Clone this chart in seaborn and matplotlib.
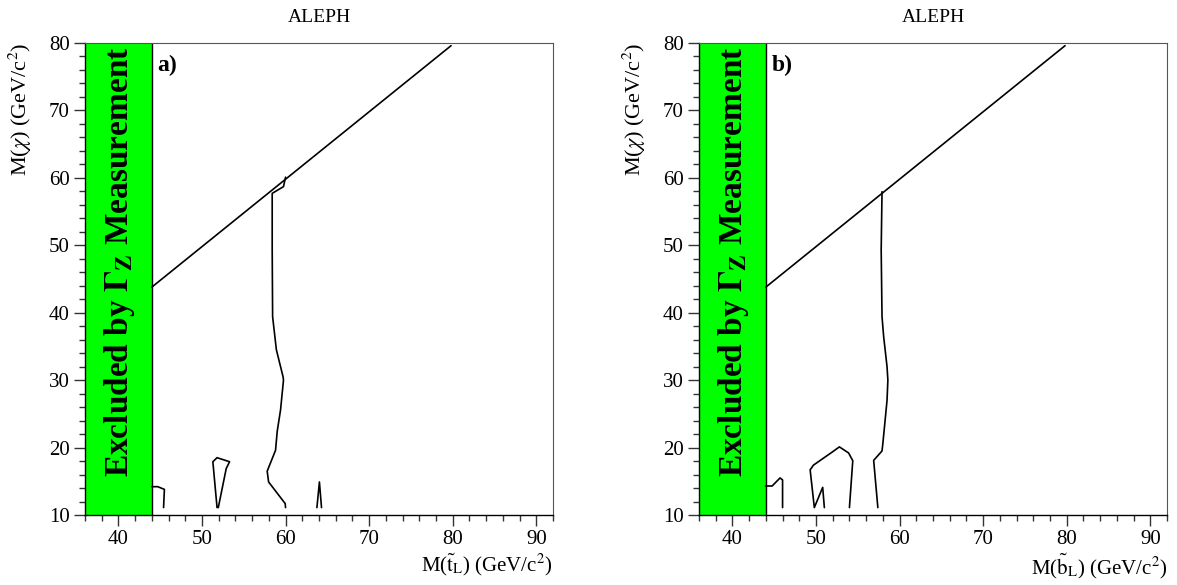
import matplotlib
matplotlib.use("Agg")
import matplotlib.pyplot as plt
import numpy as np
import pandas as pd
import seaborn as sns
from matplotlib.ticker import MultipleLocator

# excluded band (Gamma_Z) and kinematic limit, shared by both panels
BAND_X = [36, 44]
KIN_X = [44.0, 79.8]
KIN_Y = [43.8, 79.6]

# a) stop: contour pieces
A_MAIN_X = [60.0, 59.75, 58.4, 58.4, 58.45, 58.9, 59.7, 59.75, 59.4, 59.0, 58.8, 57.8, 57.97, 59.95, 60.0]
A_MAIN_Y = [60.1, 58.7, 57.7, 49.3, 39.4, 34.5, 30.5, 30.0, 25.6, 22.4, 19.6, 16.5, 14.9, 11.7, 11.1]
A_EDGE_X = [44.0, 44.7, 45.5, 45.4]
A_EDGE_Y = [14.2, 14.2, 13.8, 11.1]
A_LOOP_X = [51.8, 51.3, 51.8, 53.3, 52.9, 51.95]
A_LOOP_Y = [11.1, 17.9, 18.5, 17.9, 16.9, 11.1]
A_SPIKE_X = [63.75, 64.05, 64.3]
A_SPIKE_Y = [11.1, 14.9, 11.1]

# b) sbottom: contour pieces
B_MAIN_X = [57.9, 57.8, 57.9, 58.1, 58.5, 58.6, 58.5, 58.0, 57.9, 56.9, 57.4]
B_MAIN_Y = [57.95, 49.3, 39.4, 36.4, 32.0, 30.0, 27.0, 20.6, 19.5, 18.1, 11.1]
B_EDGE_X = [43.95, 44.75, 45.7, 46.0, 46.0]
B_EDGE_Y = [14.3, 14.3, 15.5, 15.2, 11.1]
B_LOOP_X = [54.0, 54.4, 53.9, 52.8, 51.9, 49.7, 49.3, 49.8, 50.8, 51.0]
B_LOOP_Y = [11.1, 18.05, 19.2, 20.1, 19.3, 17.4, 16.7, 11.1, 14.1, 11.1]

PANELS = [
    ("a)", r"M($\tilde{\mathrm{t}}_{\mathrm{L}}$) (GeV/c$^{2}$)",
     [(A_MAIN_X, A_MAIN_Y), (A_EDGE_X, A_EDGE_Y), (A_LOOP_X, A_LOOP_Y), (A_SPIKE_X, A_SPIKE_Y)]),
    ("b)", r"M($\tilde{\mathrm{b}}_{\mathrm{L}}$) (GeV/c$^{2}$)",
     [(B_MAIN_X, B_MAIN_Y), (B_EDGE_X, B_EDGE_Y), (B_LOOP_X, B_LOOP_Y)]),
]

sns.set_theme(style="ticks")
plt.rcParams["font.family"] = ["Liberation Serif", "DejaVu Serif"]
plt.rcParams["mathtext.fontset"] = "stix"
plt.rcParams["text.color"] = "black"
plt.rcParams["axes.labelcolor"] = "black"
plt.rcParams["xtick.color"] = "black"
plt.rcParams["ytick.color"] = "black"

W, H = 1177, 585
fig = plt.figure(figsize=(W / 100, H / 100), dpi=100)
lefts = [85, 699]


def _curve(ax, xs, ys):
    df = pd.DataFrame({"x": xs, "y": ys})
    sns.lineplot(data=df, x="x", y="y", sort=False, estimator=None,
                 color="black", lw=1.2, ax=ax)


for left, (tag, xlabel, pieces) in zip(lefts, PANELS):
    ax = fig.add_axes([left / W, 70 / H, 468 / W, 472 / H])
    ax.axvspan(BAND_X[0], BAND_X[1], color="#00ff00", lw=0, zorder=0)
    ax.axvline(BAND_X[1], color="black", lw=1.0, zorder=1)

    _curve(ax, KIN_X, KIN_Y)
    for px, py in pieces:
        _curve(ax, px, py)

    ax.set_xlim(36, 92)
    ax.set_ylim(10, 80)
    ax.xaxis.set_major_locator(MultipleLocator(10))
    ax.xaxis.set_minor_locator(MultipleLocator(2))
    ax.yaxis.set_major_locator(MultipleLocator(10))
    ax.yaxis.set_minor_locator(MultipleLocator(2))
    ax.tick_params(which="major", length=8, width=1.0, color="#333333", labelsize=15, pad=3)
    ax.tick_params(which="minor", length=4, width=1.0, color="#333333")
    for side in ["top", "right"]:
        ax.spines[side].set_color("#555555")
        ax.spines[side].set_linewidth(0.8)
    for side in ["left", "bottom"]:
        ax.spines[side].set_color("black")
        ax.spines[side].set_linewidth(1.0)

    ax.set_xlabel(xlabel, fontsize=15, loc="right", labelpad=2)
    ax.set_ylabel(r"M($\chi$) (GeV/c$^{2}$)", fontsize=16, ha="right", va="center")
    ax.yaxis.set_label_coords(-0.139, 1.0)
    ax.set_title("ALEPH", fontsize=14, pad=15)

    ax.text(0.155, 0.975, tag, transform=ax.transAxes, fontsize=17,
            fontweight="bold", ha="left", va="top")
    ax.text(40.1, 47.5, r"Excluded by $\mathbf{\Gamma_{Z}}$ Measurement",
            rotation=90, fontsize=24, fontweight="bold", ha="center", va="center")

fig.savefig("out.png", dpi=100)
